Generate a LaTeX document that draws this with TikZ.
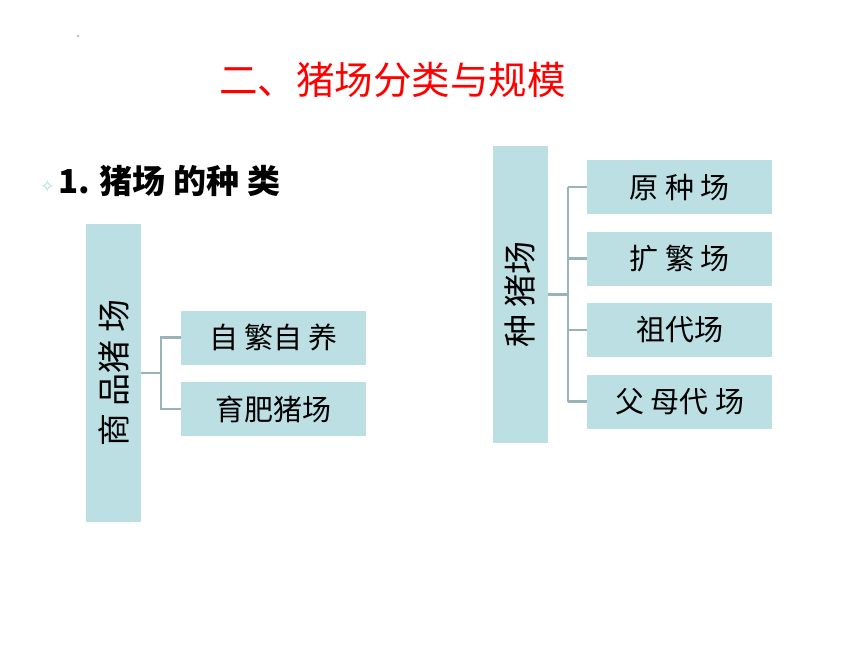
\documentclass[tikz,border=0pt]{standalone}
\usepackage{fontspec}
\newfontfamily\cjk{Noto Sans CJK SC}
\newfontfamily\symfont{DejaVu Sans}
\definecolor{boxfill}{RGB}{187,223,227}
\definecolor{linkgray}{RGB}{152,180,184}
\definecolor{starblue}{RGB}{170,215,222}
\tikzset{
  leaf/.style={fill=boxfill, minimum width=185pt, minimum height=54pt, inner sep=0pt, font=\cjk\fontsize{29}{29}\selectfont},
  stem/.style={fill=boxfill, minimum height=55pt, inner sep=0pt, rotate=90, font=\cjk\fontsize{33}{33}\selectfont},
  link/.style={draw=linkgray, line width=2.2pt}
}
\begin{document}
\begin{tikzpicture}[x=1pt,y=-1pt]
  \useasboundingbox (0,0) rectangle (860,645);
  \fill[gray] (78,36) circle (0.8);
  \node[text=red, font=\cjk\fontsize{38.5}{38.5}\selectfont] (title) at (392.5,80) {二、猪场分类与规模};
  \node[font=\symfont\fontsize{17}{17}\selectfont, text=starblue] (star) at (47.5,186.5) {✧};
  \node[anchor=west, inner sep=0pt, font=\cjk\bfseries\fontsize{33}{33}\selectfont] (head) at (58,181) {1. 猪场 的种 类};

  % commercial farms
  \node[stem, minimum width=298pt] (sp) at (113.5,373) {商 品猪 场};
  \node[leaf] (zf) at (273.5,337.5) {自 繁自 养};
  \node[leaf] (yf) at (273.5,409) {育肥猪场};
  \draw[link] (sp.south) -- ++(20,0) coordinate (sj);
  \draw[link] (zf.west) -| (sj) |- (yf.west);

  % breeding farms
  \node[stem, minimum width=297pt] (zz) at (520,294.5) {种 猪场};
  \node[leaf] (yz) at (679.5,187) {原 种 场};
  \node[leaf] (kf) at (679.5,258.5) {扩 繁 场};
  \node[leaf] (zd) at (679.5,330) {祖代场};
  \node[leaf] (fm) at (679.5,401.5) {父 母代 场};
  \draw[link] (zz.south) -- ++(20,0) coordinate (zj);
  \draw[link] (yz.west -| zj) -- (fm.west -| zj);
  \foreach \n in {yz,kf,zd,fm}
    \draw[link] (\n.west) -- (\n.west -| zj);
\end{tikzpicture}
\end{document}
